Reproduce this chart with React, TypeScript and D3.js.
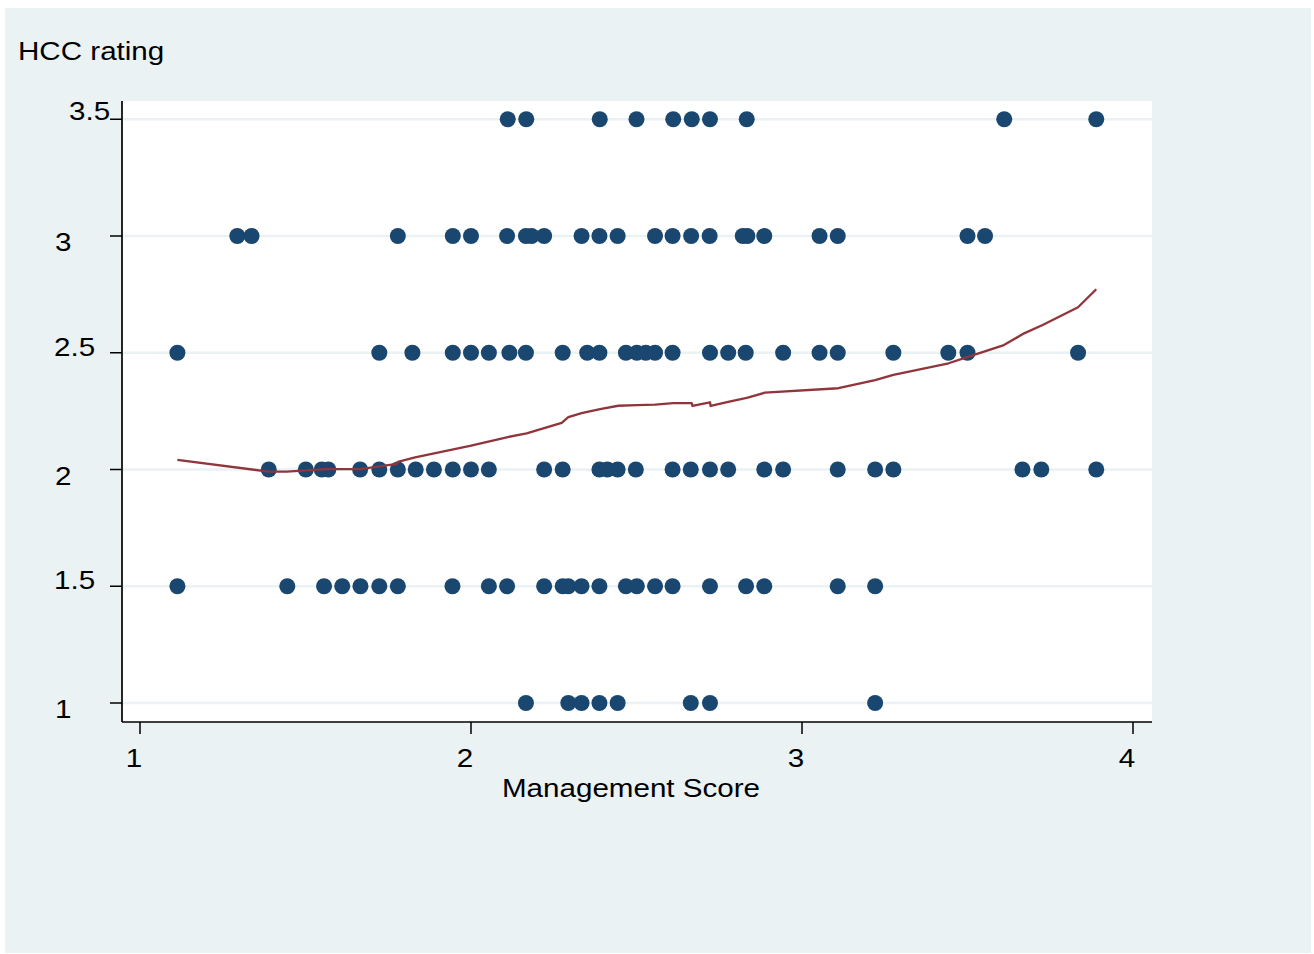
import React from "react";
import * as d3 from "d3";

// ---- Data ----
const xTickValues = [1, 2, 3, 4];
const xTickLabels = ["1", "2", "3", "4"];
const yTickValues = [1, 1.5, 2, 2.5, 3, 3.5];
const yTickLabels = ["1", "1.5", "2", "2.5", "3", "3.5"];

const ratingLevels = [3.5, 3, 2.5, 2, 1.5, 1];

const scoresAt3_5 = [2.111, 2.167, 2.389, 2.5, 2.611, 2.667, 2.722, 2.833, 3.611, 3.889];
const scoresAt3 = [1.294, 1.337, 1.779, 1.945, 2.0, 2.109, 2.166, 2.183, 2.221, 2.334, 2.388, 2.443, 2.556, 2.609, 2.665, 2.721, 2.821, 2.835, 2.886, 3.053, 3.108, 3.5, 3.553];
const scoresAt2_5 = [1.113, 1.723, 1.823, 1.945, 2.0, 2.054, 2.116, 2.166, 2.277, 2.351, 2.388, 2.468, 2.501, 2.528, 2.556, 2.609, 2.722, 2.777, 2.83, 2.943, 3.053, 3.108, 3.276, 3.442, 3.5, 3.834];
const scoresAt2 = [1.389, 1.501, 1.549, 1.569, 1.665, 1.723, 1.779, 1.833, 1.888, 1.945, 2.0, 2.054, 2.221, 2.277, 2.388, 2.412, 2.443, 2.498, 2.609, 2.664, 2.722, 2.777, 2.886, 2.943, 3.108, 3.221, 3.276, 3.666, 3.723, 3.889];
const scoresAt1_5 = [1.113, 1.445, 1.556, 1.611, 1.666, 1.723, 1.779, 1.944, 2.054, 2.109, 2.221, 2.277, 2.294, 2.334, 2.388, 2.468, 2.501, 2.556, 2.609, 2.722, 2.831, 2.886, 3.108, 3.221];
const scoresAt1 = [2.166, 2.294, 2.334, 2.388, 2.443, 2.664, 2.722, 3.221];

const scoreRows = [scoresAt3_5, scoresAt3, scoresAt2_5, scoresAt2, scoresAt1_5, scoresAt1];

// lowess smooth
const lowessX = [1.113, 1.388, 1.443, 1.564, 1.665, 1.776, 1.779, 1.831, 1.997, 2.108, 2.168, 2.274, 2.294, 2.334, 2.39, 2.445, 2.501, 2.556, 2.611, 2.667, 2.669, 2.722, 2.724, 2.777, 2.833, 2.888, 3.11, 3.221, 3.276, 3.443, 3.499, 3.61, 3.671, 3.727, 3.834, 3.889];
const lowessY = [2.041, 1.991, 1.991, 2.002, 2.002, 2.024, 2.033, 2.052, 2.101, 2.138, 2.155, 2.2, 2.224, 2.241, 2.259, 2.273, 2.276, 2.278, 2.284, 2.284, 2.272, 2.288, 2.272, 2.29, 2.307, 2.329, 2.348, 2.383, 2.405, 2.455, 2.481, 2.533, 2.583, 2.619, 2.695, 2.772];

const xTitle = "Management Score";
const yTitle = "HCC rating";

// ---- Layout / style ----
const W = 1314;
const H = 954;
const BG = "#eaf2f3";
const NAVY = "#1a476f";
const MAROON = "#90353b";
const FONT = "'Liberation Sans', Arial, Helvetica, sans-serif";
const FS = 25.5;
const SX = 1.16;

const plot = { left: 122, right: 1152, top: 101, bottom: 722 };

export default function App() {
  const x = d3.scaleLinear().domain([1, 4]).range([140, 1133]);
  const y = d3.scaleLinear().domain([1, 3.5]).range([703, 119.25]);

  const points = ratingLevels.flatMap((r, i) => scoreRows[i].map((s) => ({ s, r })));
  const lowess = lowessX.map((v, i) => [v, lowessY[i]] as [number, number]);
  const line = d3
    .line<[number, number]>()
    .x((d) => x(d[0]))
    .y((d) => y(d[1]));

  const yLabelNudge = (lab: string, v: number) => {
    if (lab === "3.5") return { lx: 69, dy: 1 };
    if (Number.isInteger(v)) return { lx: 55, dy: 15 };
    return { lx: 54, dy: 3 };
  };

  return (
    <svg
      width={W}
      height={H}
      style={{ position: "absolute", left: 0, top: 0, display: "block" }}
      fontFamily={FONT}
    >
      <rect x={0} y={0} width={W} height={H} fill="#ffffff" />
      <rect x={5} y={8} width={1306} height={945} fill={BG} />
      <rect
        x={plot.left}
        y={plot.top}
        width={plot.right - plot.left}
        height={plot.bottom - plot.top}
        fill="#ffffff"
      />
      {/* gridlines */}
      {yTickValues.map((v) => (
        <line
          key={"g" + v}
          x1={plot.left}
          x2={plot.right}
          y1={y(v)}
          y2={y(v)}
          stroke={BG}
          strokeWidth={2.4}
        />
      ))}
      {/* points */}
      {points.map((p, i) => (
        <circle key={"p" + i} cx={x(p.s)} cy={y(p.r)} r={8} fill={NAVY} />
      ))}
      {/* lowess */}
      <path d={line(lowess) || ""} fill="none" stroke={MAROON} strokeWidth={2.3} strokeLinejoin="round" />
      {/* axes */}
      <line x1={plot.left} x2={plot.left} y1={plot.top} y2={plot.bottom} stroke="#000" strokeWidth={1.7} />
      <line x1={plot.left} x2={plot.right} y1={plot.bottom} y2={plot.bottom} stroke="#000" strokeWidth={1.7} />
      {yTickValues.map((v, i) => {
        const n = yTickLabels[i];
        const nd = yLabelNudge(n, v);
        return (
          <g key={"yt" + v}>
            <line x1={plot.left - 12} x2={plot.left} y1={y(v)} y2={y(v)} stroke="#000" strokeWidth={1.5} />
            <text
              transform={`translate(${nd.lx},${y(v) + nd.dy}) scale(${SX},1)`}
              fontSize={FS}
              fill="#000"
            >
              {n}
            </text>
          </g>
        );
      })}
      {xTickValues.map((v, i) => (
        <g key={"xt" + v}>
          <line x1={x(v)} x2={x(v)} y1={plot.bottom} y2={plot.bottom + 12} stroke="#000" strokeWidth={1.5} />
          <text
            transform={`translate(${x(v) - 6},767) scale(${SX},1)`}
            fontSize={FS}
            textAnchor="middle"
            fill="#000"
          >
            {xTickLabels[i]}
          </text>
        </g>
      ))}
      <text transform={`translate(631,797) scale(${SX},1)`} fontSize={FS} textAnchor="middle" fill="#000">
        {xTitle}
      </text>
      <text transform={`translate(18,60) scale(${SX},1)`} fontSize={FS} fill="#000">
        {yTitle}
      </text>
    </svg>
  );
}
